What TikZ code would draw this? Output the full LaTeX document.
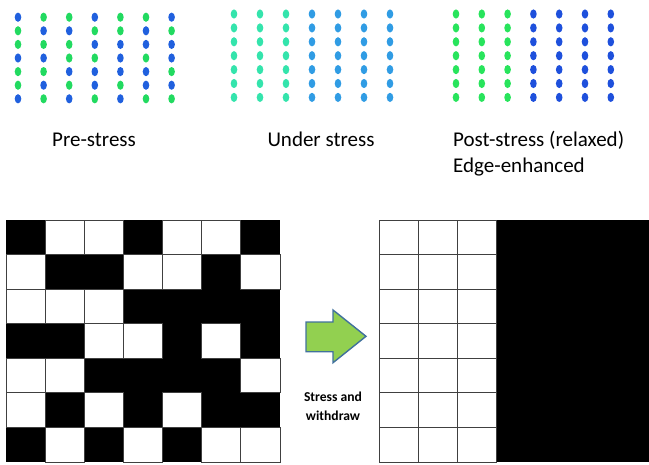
\documentclass[tikz,border=0pt]{standalone}
\usepackage{fontspec}
\setmainfont{Carlito}
\definecolor{preG}{RGB}{34,218,96}
\definecolor{preB}{RGB}{32,96,222}
\definecolor{undG}{RGB}{52,228,172}
\definecolor{undB}{RGB}{48,156,228}
\definecolor{postG}{RGB}{40,228,92}
\definecolor{postB}{RGB}{30,80,220}
\definecolor{arrowfill}{RGB}{146,208,80}
\definecolor{arrowline}{RGB}{65,113,156}
\colorlet{p0}{preG}
\colorlet{p1}{preB}
\begin{document}
\begin{tikzpicture}[x=1pt,y=-1pt,
  dot/.style={x radius=3.3,y radius=4.6},
  whitecell/.style={draw=black!75,fill=white,line width=0.9pt},
  lab/.style={font=\fontsize{21}{26}\selectfont,inner sep=0pt},
  boldlab/.style={font=\fontsize{13.6}{19}\selectfont\bfseries,inner sep=0pt,align=center},
  bigarrow/.style={fill=arrowfill,draw=arrowline,line width=1.4pt,line join=miter}]
\useasboundingbox (0,0) rectangle (649,464);
% pre-stress dots
\foreach \row [count=\r] in {{1,0,0,1,0,0,1},{0,1,1,0,0,1,0},{0,0,0,1,1,1,1},{1,1,0,0,1,0,1},{0,0,1,1,1,1,0},{0,1,0,1,0,1,1},{1,0,1,0,1,0,0}}{
  \foreach \v [count=\c] in \row {
    \fill[p\v] ({18+(\c-1)*25.6},{17.2+(\r-1)*13.6}) ellipse [dot];
  }
}
% under-stress dots
\foreach \r in {1,...,7}{
  \foreach \c in {1,2,3}{\fill[undG] ({234+(\c-1)*26},{14+(\r-1)*13.9}) ellipse [dot];}
  \foreach \c in {4,...,7}{\fill[undB] ({234+(\c-1)*26},{14+(\r-1)*13.9}) ellipse [dot];}
}
% post-stress dots
\foreach \r in {1,...,7}{
  \foreach \c in {1,2,3}{\fill[postG] ({456+(\c-1)*25.8},{14+(\r-1)*13.9}) ellipse [dot];}
  \foreach \c in {4,...,7}{\fill[postB] ({456+(\c-1)*25.8},{14+(\r-1)*13.9}) ellipse [dot];}
}
% labels
\node[lab,anchor=base] (pre) at (94,146) {Pre-stress};
\node[lab,anchor=base] (under) at (321,146) {Under stress};
\node[lab,anchor=base west] (post) at (453,146) {Post-stress (relaxed)};
\node[lab,anchor=base west] (edge) at (453,172.3) {Edge-enhanced};
% left grid: black cells first, then white cells with borders
\foreach \row [count=\r] in {{1,0,0,1,0,0,1},{0,1,1,0,0,1,0},{0,0,0,1,1,1,1},{1,1,0,0,1,0,1},{0,0,1,1,1,1,0},{0,1,0,1,0,1,1},{1,0,1,0,1,0,0}}{
  \foreach \v [count=\c] in \row {
    \ifnum\v=1
      \fill[black] ({6+(\c-1)*39.14-0.3},{220+(\r-1)*34.57-0.3}) rectangle ++(39.74,35.17);
    \fi
  }
}
\foreach \row [count=\r] in {{1,0,0,1,0,0,1},{0,1,1,0,0,1,0},{0,0,0,1,1,1,1},{1,1,0,0,1,0,1},{0,0,1,1,1,1,0},{0,1,0,1,0,1,1},{1,0,1,0,1,0,0}}{
  \foreach \v [count=\c] in \row {
    \ifnum\v=0
      \filldraw[whitecell] ({6+(\c-1)*39.14},{220+(\r-1)*34.57}) rectangle ++(39.14,34.57);
    \fi
  }
}
% right grid
\foreach \r in {1,...,7}{
  \foreach \c in {1,2,3}{
    \filldraw[whitecell] ({379+(\c-1)*39.23},{220+(\r-1)*34.57}) rectangle ++(39.23,34.57);
  }
}
\fill[black] (496.7,219.6) rectangle (649,462.4);
% arrow
\coordinate (a1) at (306,322);
\coordinate (a2) at (333,322);
\coordinate (a3) at (333,310);
\coordinate (a4) at (366,336.3);
\coordinate (a5) at (333,362.7);
\coordinate (a6) at (333,351.7);
\coordinate (a7) at (306,351.7);
\draw[bigarrow] (a1) -- (a2) -- (a3) -- (a4) -- (a5) -- (a6) -- (a7) -- cycle;
\node[boldlab] (stress) at (333,406) {Stress and\\withdraw};
\end{tikzpicture}
\end{document}
